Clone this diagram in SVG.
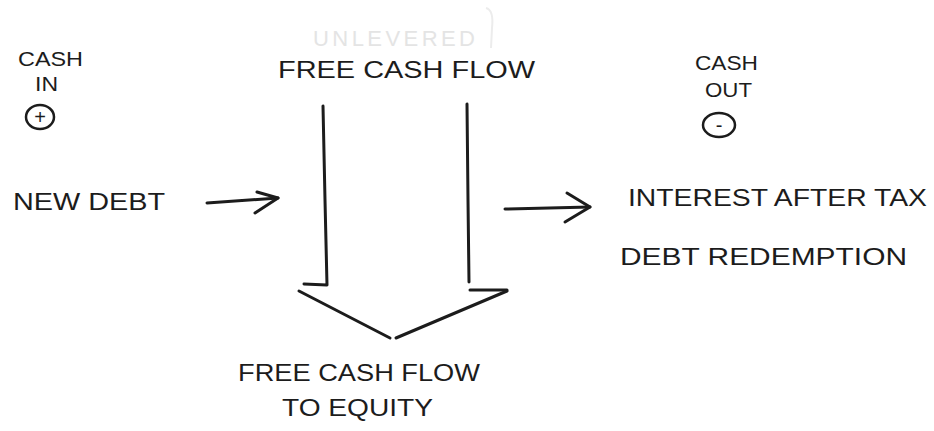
<svg xmlns="http://www.w3.org/2000/svg" width="934" height="431" viewBox="0 0 934 431">
<style>
text{font-family:"Liberation Sans",Arial,sans-serif;fill:#1c1c1c;}
.lbl{font-size:24px;}
.sm{font-size:21px;}
.ghost{font-size:22px;fill:#e4e4e4;letter-spacing:2px;}
.ln{fill:none;stroke:#1c1c1c;stroke-width:3;stroke-linecap:round;stroke-linejoin:round;}
.sym{fill:none;stroke:#1c1c1c;stroke-width:2.5;}
</style>
<rect width="934" height="431" fill="#ffffff"/>
<g id="ghost">
<text class="ghost" x="313" y="46" textLength="164" lengthAdjust="spacing">UNLEVERED</text>
<path d="M486 8 Q494 10 492 28 L491 48" fill="none" stroke="#ececec" stroke-width="2"/>
</g>
<g id="cash-in">
<text class="sm" x="18" y="66" textLength="65" lengthAdjust="spacingAndGlyphs">CASH</text>
<text class="sm" x="35" y="91" font-size="19" textLength="23" lengthAdjust="spacingAndGlyphs">IN</text>
<ellipse class="sym" cx="40" cy="117" rx="14" ry="12"/>
<text x="40" y="124" font-size="20" text-anchor="middle">+</text>
</g>
<g id="fcf">
<text class="lbl" x="278" y="78" font-size="26" textLength="257" lengthAdjust="spacingAndGlyphs">FREE CASH FLOW</text>
</g>
<g id="cash-out">
<text class="sm" x="695" y="70" textLength="63" lengthAdjust="spacingAndGlyphs">CASH</text>
<text class="sm" x="705" y="97" textLength="47" lengthAdjust="spacingAndGlyphs">OUT</text>
<ellipse class="sym" cx="719" cy="125" rx="16" ry="12"/>
<text x="719" y="132" font-size="20" text-anchor="middle">-</text>
</g>
<g id="new-debt">
<text class="lbl" x="13" y="210" textLength="152" lengthAdjust="spacingAndGlyphs">NEW DEBT</text>
</g>
<g id="outflows">
<text class="lbl" x="628" y="206" textLength="299" lengthAdjust="spacingAndGlyphs">INTEREST AFTER TAX</text>
<text class="lbl" x="620" y="265" font-size="26" textLength="287" lengthAdjust="spacingAndGlyphs">DEBT REDEMPTION</text>
</g>
<g id="fcfe">
<text class="lbl" x="238" y="381" textLength="242" lengthAdjust="spacingAndGlyphs">FREE CASH FLOW</text>
<text class="lbl" x="282" y="416" font-size="26" textLength="151" lengthAdjust="spacingAndGlyphs">TO EQUITY</text>
</g>
<g id="connectors">
<polyline class="ln" points="207,203 278,198"/>
<polyline class="ln" points="257,192 278,198 255,213"/>
<polyline class="ln" points="505,209 590,207"/>
<polyline class="ln" points="567,193 590,207 565,222"/>
<polyline class="ln" points="323,106 325,200 327,285 304,284"/>
<polyline class="ln" points="467,104 468,200 469,282"/>
<polyline class="ln" points="470,290 507,290"/>
<polyline class="ln" points="299,291 390,338"/>
<polyline class="ln" points="396,338 507,291"/>
</g>
</svg>
